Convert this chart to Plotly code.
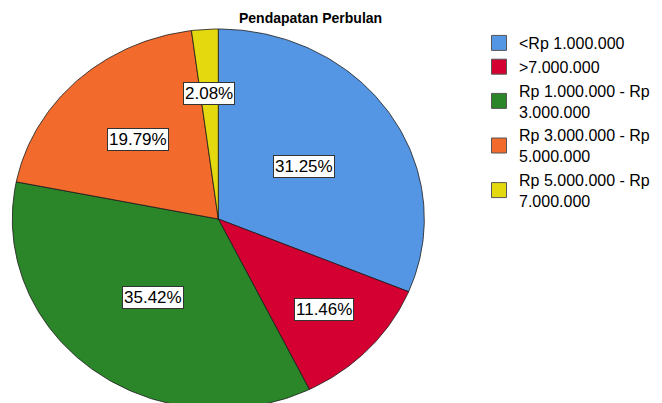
import numpy as np
import plotly.graph_objects as go

# ---- data ----
categories = ["<Rp 1.000.000", ">7.000.000", "Rp 1.000.000 - Rp 3.000.000",
              "Rp 3.000.000 - Rp 5.000.000", "Rp 5.000.000 - Rp 7.000.000"]
legend_labels = ["<Rp 1.000.000", ">7.000.000", "Rp 1.000.000 - Rp<br>3.000.000",
                 "Rp 3.000.000 - Rp<br>5.000.000", "Rp 5.000.000 - Rp<br>7.000.000"]
percent = [31.25, 11.46, 35.42, 19.79, 2.08]
title = "Pendapatan Perbulan"

# ---- style ----
colors = ["#5596E4", "#D50032", "#2B8529", "#F26A2C", "#E4D80F"]
label_r = [0.50, 0.70, 0.52, 0.57, 0.66]
FONT = "Liberation Sans, Arial, sans-serif"

# figure is drawn inside the page's 8px body margin
W, H = 654, 395
CX, CY, RX, RY = 210.3, 211.0, 206.0, 190.0   # pie centre / radii in figure pixels

fig = go.Figure()
total = sum(percent)
start = 0.0
annotations = []
for cat, val, col, lr in zip(categories, percent, colors, label_r):
    a0 = start / total * 2 * np.pi
    a1 = (start + val) / total * 2 * np.pi
    t = np.linspace(a0, a1, max(int(val * 4), 4))
    xs = np.concatenate([[0], np.sin(t), [0]])
    ys = np.concatenate([[0], np.cos(t), [0]])
    fig.add_trace(go.Scatter(x=xs, y=ys, mode="lines", fill="toself", name=cat,
                             fillcolor=col, line=dict(color="#1a1a1a", width=0.8),
                             showlegend=False, hoverinfo="skip"))
    am = (a0 + a1) / 2
    annotations.append(dict(x=lr * np.sin(am), y=lr * np.cos(am), xref="x", yref="y",
                            text=f"{val:.2f}%", showarrow=False,
                            font=dict(family=FONT, size=17, color="black"),
                            bgcolor="white", bordercolor="#333333", borderwidth=1,
                            borderpad=1))
    start += val

for lab, col in zip(legend_labels, colors):
    fig.add_trace(go.Scatter(x=[None], y=[None], mode="markers", name=lab,
                             marker=dict(symbol="square", size=15, color=col,
                                         line=dict(color="#555555", width=1))))

annotations.append(dict(x=302 / W, y=1 - 10 / H, xref="paper", yref="paper",
                        xanchor="center", yanchor="middle",
                        text=title, showarrow=False,
                        font=dict(family=FONT, size=14, color="black", weight="bold")))

fig.update_layout(
    width=W, height=H,
    margin=dict(l=0, r=0, t=0, b=0),
    paper_bgcolor="white", plot_bgcolor="white",
    xaxis=dict(range=[-CX / RX, (W - CX) / RX], visible=False, fixedrange=True),
    yaxis=dict(range=[(CY - H) / RY, CY / RY], visible=False, fixedrange=True),
    showlegend=True,
    legend=dict(x=471 / W, y=1 - 18 / H, xanchor="left", yanchor="top",
                font=dict(family=FONT, size=16, color="black"),
                tracegroupgap=0, itemwidth=30, bgcolor="rgba(0,0,0,0)"),
    annotations=annotations,
)

fig.write_html("out.html")
